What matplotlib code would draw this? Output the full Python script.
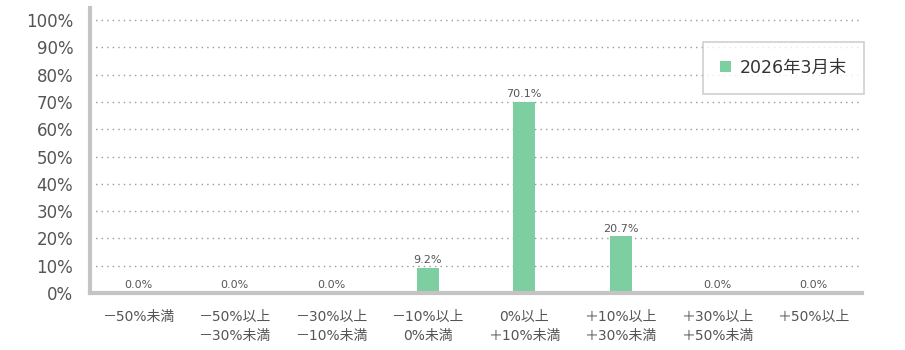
import matplotlib
matplotlib.use("Agg")
import matplotlib.pyplot as plt
from matplotlib.patches import Patch

plt.rcParams['font.family'] = ['DejaVu Sans', 'Noto Sans CJK JP']

categories = ["－50%未満", "－50%以上\n－30%未満", "－30%以上\n－10%未満",
              "－10%以上\n0%未満", "0%以上\n＋10%未満", "＋10%以上\n＋30%未満",
              "＋30%以上\n＋50%未満", "＋50%以上"]
values = [0.0, 0.0, 0.0, 9.2, 70.1, 20.7, 0.0, 0.0]
series_name = "2026年3月末"
yticks = list(range(0, 101, 10))

bar_color = "#7dcea0"
grey = "#c4c4c4"
text_color = "#555555"

fig = plt.figure(figsize=(9.05, 3.5), dpi=100)
ax = fig.add_axes([0.0994, 0.163, 0.853, 0.814])

x = list(range(len(categories)))
ax.bar(x, values, width=0.23, color=bar_color, zorder=3)
for xi, v in zip(x, values):
    ax.text(xi, v + 1.0, f"{v:.1f}%", ha="center", va="bottom",
            fontsize=8, color=text_color)

ax.set_xlim(-0.5, len(categories) - 0.5)
ax.set_ylim(0, 104.4)
ax.set_yticks(yticks)
ax.set_yticklabels([f"{t}%" for t in yticks], fontsize=12, color=text_color)
ax.set_xticks(x)
ax.set_xticklabels(categories, fontsize=10, color=text_color, linespacing=1.5)
ax.tick_params(axis="both", length=0)
ax.tick_params(axis="y", pad=12)
ax.tick_params(axis="x", pad=12)

ax.grid(axis="y", linestyle=(0, (1, 3)), color="#999999", linewidth=1.0, zorder=0)
ax.grid(axis="x", visible=False)
for s in ["top", "right"]:
    ax.spines[s].set_visible(False)
ax.spines["left"].set_color(grey)
ax.spines["left"].set_linewidth(3)
ax.spines["bottom"].set_color(grey)
ax.spines["bottom"].set_linewidth(3)
ax.spines["bottom"].set_zorder(4)

handle = Patch(facecolor=bar_color, edgecolor="none")
leg = fig.legend([handle], [series_name], loc="center",
                 bbox_to_anchor=(869 / 905 - 171 / 905 / 2, 1 - 68 / 350),
                 fontsize=12.5, frameon=True, fancybox=False,
                 handlelength=0.6, handleheight=0.6, handletextpad=0.5,
                 borderpad=1.0, borderaxespad=0)
leg.get_frame().set_edgecolor(grey)
leg.get_frame().set_linewidth(1.2)
for t in leg.get_texts():
    t.set_color("#333333")

fig.savefig("out.png", dpi=100)
